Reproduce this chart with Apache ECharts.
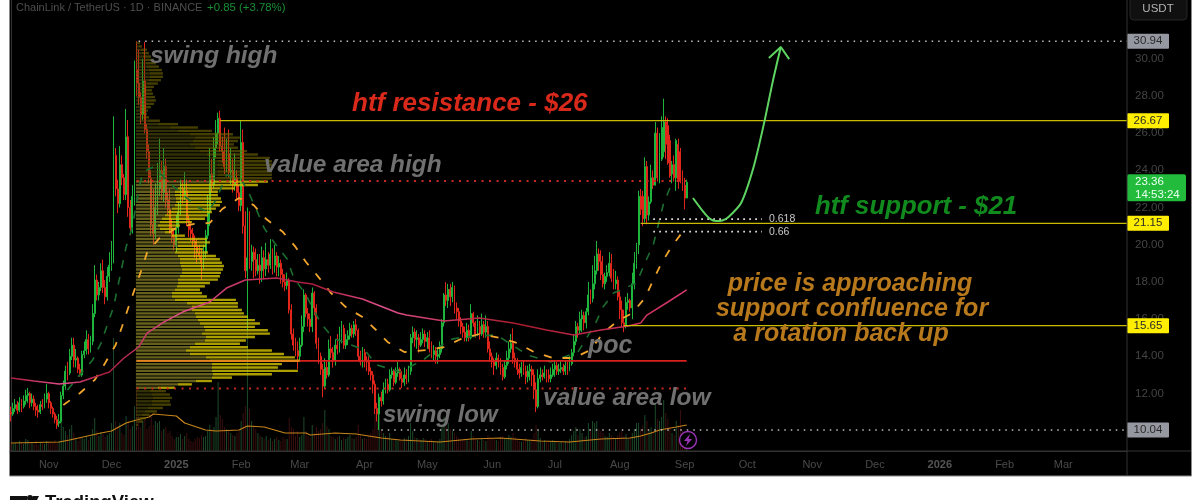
<!DOCTYPE html>
<html><head><meta charset="utf-8">
<style>html,body{margin:0;padding:0;background:#fff;overflow:hidden}#c{width:1200px;height:500px}</style>
<script src="https://cdn.jsdelivr.net/npm/echarts@6/dist/echarts.min.js"></script></head>
<body><div id="c"></div>
<script>
const startDate = Date.UTC(2024, 9, 14);
const barCount = 534;
const monthTicks = [["2024-11-01","Nov"],["2024-12-01","Dec"],["2025-01-01","2025"],["2025-02-01","Feb"],["2025-03-01","Mar"],["2025-04-01","Apr"],["2025-05-01","May"],["2025-06-01","Jun"],["2025-07-01","Jul"],["2025-08-01","Aug"],["2025-09-01","Sep"],["2025-10-01","Oct"],["2025-11-01","Nov"],["2025-12-01","Dec"],["2026-01-01","2026"],["2026-02-01","Feb"],["2026-03-01","Mar"]];
const priceTicks = [12,14,16,18,20,22,24,26,28,30];

const opens = [
11.0,10.9,11.2,11.4,11.1,11.5,11.3,11.6,11.9,12.0,
11.5,11.7,11.3,11.1,11.0,11.4,11.3,11.7,12.0,11.5,
11.2,10.9,10.6,10.4,10.5,11.9,12.4,13.2,13.1,14.0,
14.6,13.8,13.9,13.3,13.0,14.1,14.3,14.9,14.4,14.8,
16.3,18.1,17.3,17.7,18.6,17.7,17.2,18.3,18.9,19.4,
24.8,23.0,22.2,24.3,23.6,22.7,25.8,22.0,20.9,22.6,
29.4,28.7,27.9,27.0,28.8,26.2,25.0,23.6,21.1,20.6,
22.0,23.0,24.0,22.8,24.2,22.4,21.9,20.9,20.4,20.0,
20.9,21.8,23.0,22.6,22.9,21.3,20.8,20.6,20.2,19.9,
19.6,19.4,19.0,19.6,20.5,21.8,23.8,23.2,25.2,26.0,
26.8,25.3,25.0,24.2,24.9,23.9,24.0,23.2,23.6,22.8,
22.1,25.5,21.0,18.6,19.3,19.1,19.6,19.2,18.6,18.9,
18.6,19.3,18.7,19.2,18.9,19.5,18.9,19.4,18.8,19.0,
18.4,18.0,17.8,18.1,16.5,15.2,14.6,14.3,14.0,14.6,
15.6,17.3,16.3,16.0,15.6,17.4,16.6,14.7,14.0,13.3,
12.4,13.4,13.0,14.4,14.2,13.8,14.6,14.4,15.0,15.5,
14.6,14.9,15.1,15.5,15.2,15.7,15.4,14.0,13.7,14.2,
13.8,13.7,13.2,13.0,12.5,11.2,10.9,11.8,11.6,12.2,
12.5,12.2,13.0,13.2,12.6,13.1,13.3,12.8,12.6,13.0,
12.8,13.2,15.0,15.3,14.9,15.0,14.6,14.9,15.2,14.8,
15.0,14.4,14.1,14.3,14.0,14.1,14.4,15.8,17.3,17.0,
17.6,17.2,17.7,16.6,16.4,15.9,15.6,15.3,15.0,15.4,
15.0,16.3,15.8,15.2,15.6,15.2,15.7,15.3,15.6,14.4,
14.0,13.7,13.5,13.9,13.7,13.4,12.9,13.5,13.9,14.4,
14.7,13.9,13.7,13.3,13.1,13.4,13.2,12.9,13.2,13.3,
13.0,12.2,11.3,12.8,13.0,12.9,13.1,13.0,12.8,13.0,
13.3,13.5,13.2,13.3,13.4,13.2,13.5,13.3,13.6,14.2,
14.8,15.6,15.4,16.0,16.2,15.8,16.4,17.3,17.1,17.9,
18.6,19.5,19.1,18.4,17.9,18.3,18.5,19.0,18.2,17.9,
18.1,17.2,16.5,15.8,15.7,16.9,17.0,16.6,17.9,19.0,
20.0,22.6,22.6,21.4,24.2,21.6,22.3,23.6,23.2,26.0,
23.6,24.6,25.0,26.6,26.4,25.6,23.8,24.3,23.6,25.4,
25.0,23.4,23.2,22.51];
const highs = [
11.3,11.5,11.7,11.6,11.8,11.7,11.9,12.2,12.3,12.1,
12.0,11.9,11.5,11.4,11.6,11.7,12.0,12.5,12.1,11.6,
11.3,11.0,10.8,10.9,12.1,12.7,13.5,13.7,14.4,15.0,
15.0,14.4,14.0,13.6,14.3,14.8,15.4,15.2,15.1,16.8,
18.9,18.4,18.0,19.0,19.2,18.1,18.8,19.6,20.2,26.9,
25.2,23.5,25.3,24.8,23.8,27.3,26.7,22.4,23.2,29.9,
30.94,30.5,28.2,30.0,30.9,26.5,25.4,24.0,23.0,23.3,
24.4,25.7,24.5,25.2,24.6,22.8,23.0,21.4,20.9,21.6,
22.3,23.5,23.4,23.9,23.5,21.6,21.2,20.9,20.5,20.3,
20.0,19.8,20.0,20.8,22.7,25.2,24.6,25.8,26.7,27.1,
27.2,25.8,26.3,25.7,26.2,25.2,24.6,24.9,24.0,23.2,
26.7,26.2,21.8,22.0,21.8,20.0,19.9,19.8,19.5,19.5,
19.9,19.7,20.1,19.6,20.3,19.8,20.0,19.6,19.4,19.2,
18.7,18.4,18.5,18.2,16.8,15.5,15.0,14.8,15.0,16.2,
17.6,17.4,16.6,16.3,17.7,17.5,16.8,15.0,14.2,13.6,
13.9,13.7,14.9,15.1,14.5,14.9,15.2,15.6,15.9,15.7,
15.2,15.4,15.8,15.7,15.9,16.0,15.5,14.3,14.5,14.4,
14.0,14.0,13.4,13.2,12.7,11.5,12.0,12.1,12.6,12.8,
12.8,13.3,13.4,13.3,13.4,13.7,13.4,13.2,13.4,13.3,
13.5,15.2,15.6,15.5,15.4,15.2,15.3,15.5,15.4,15.3,
15.4,14.8,14.6,14.5,14.4,14.8,16.0,17.4,18.0,17.9,
17.9,18.0,17.8,16.9,16.6,16.1,15.8,15.6,15.8,15.7,
16.8,16.4,15.9,16.2,15.9,16.3,15.9,16.2,15.9,14.8,
14.2,13.9,14.2,14.1,13.9,13.6,13.8,14.3,14.8,15.2,
15.5,14.2,13.9,13.6,13.7,13.8,13.5,13.5,13.6,13.5,
13.3,12.6,13.3,13.4,13.3,13.5,13.3,13.3,13.4,13.6,
13.8,13.7,13.6,13.8,13.6,13.8,13.7,14.0,14.4,15.2,
15.9,15.8,16.4,16.5,16.4,16.6,18.0,17.6,18.9,19.4,
20.2,19.8,19.7,19.4,18.5,18.9,19.6,19.5,18.7,18.6,
18.3,17.5,17.0,16.5,17.2,17.4,17.1,18.5,19.6,20.1,
22.9,23.0,22.9,24.7,24.5,22.6,24.3,24.0,26.6,26.3,
26.0,26.9,27.85,26.9,26.8,25.9,24.5,24.8,25.7,25.7,
25.2,24.0,23.6,23.5];
const lows = [
10.5,10.8,11.0,10.9,11.0,11.0,11.2,11.4,11.5,11.2,
11.3,11.1,10.8,10.7,10.9,11.1,11.2,11.5,11.2,10.9,
10.7,10.4,10.1,10.2,10.4,11.7,12.2,12.7,13.0,13.8,
13.4,13.4,13.1,12.9,12.9,13.9,14.1,14.1,14.2,14.6,
16.1,17.0,17.0,17.5,17.4,16.8,17.0,18.0,18.6,19.0,
22.6,21.7,22.0,23.2,22.4,22.4,21.5,20.5,20.6,22.1,
28.0,27.5,26.5,26.7,26.0,24.6,23.3,20.5,20.0,20.3,
21.6,22.6,22.4,22.3,22.0,21.6,20.6,20.1,19.7,19.6,
20.6,21.6,22.2,22.4,21.0,20.4,20.2,19.9,19.3,19.0,
19.2,18.1,18.7,19.3,20.3,21.0,22.8,23.0,24.7,25.4,
25.0,24.4,23.8,23.9,23.6,23.2,22.8,22.9,22.4,21.8,
21.8,20.6,18.2,15.4,18.7,18.6,18.2,18.3,18.4,17.9,
18.0,18.2,18.3,18.5,18.7,18.4,18.5,18.3,18.3,17.9,
17.7,17.5,17.6,16.3,14.9,14.3,14.0,13.3,13.8,14.5,
15.3,16.1,15.6,15.3,15.3,16.2,14.4,13.6,13.0,11.8,
12.3,12.8,12.9,13.9,13.4,13.5,14.1,14.2,14.7,14.4,
14.4,14.6,14.9,15.0,15.0,15.1,13.8,13.5,13.4,13.4,
13.2,13.0,12.7,12.0,10.9,10.5,10.04,11.3,11.4,12.0,
12.0,12.1,12.8,12.4,12.5,12.9,12.7,12.3,12.4,12.5,
12.6,13.0,14.7,14.5,14.4,14.2,14.5,14.7,14.5,14.4,
14.2,13.9,13.8,13.6,13.6,13.9,14.2,15.6,16.7,16.6,
16.7,16.9,16.3,16.0,15.6,15.2,15.0,14.8,14.8,14.8,
14.9,15.6,15.0,15.1,14.9,15.1,15.0,15.0,14.2,13.7,
13.4,13.0,13.3,13.4,13.0,12.7,12.8,13.3,13.6,14.2,
13.6,13.4,13.0,12.8,12.9,13.0,12.5,12.6,12.7,12.4,
11.7,11.0,11.2,12.6,12.7,12.8,12.6,12.6,12.6,12.9,
12.9,13.0,13.0,13.1,13.0,13.0,13.0,13.2,13.5,14.0,
14.6,15.0,15.2,15.3,15.4,15.5,16.2,16.8,16.9,17.6,
18.4,18.6,18.1,17.7,17.6,18.0,18.3,18.0,17.6,17.6,
17.0,16.0,15.6,15.3,15.5,16.5,16.4,16.0,17.6,18.7,
19.5,21.6,21.0,21.2,21.1,21.3,22.2,23.0,23.3,23.4,
23.3,24.5,24.7,24.6,24.3,23.6,23.3,23.4,22.9,23.0,
23.3,22.9,21.9,22.5];
const closes = [
10.9,11.2,11.4,11.1,11.5,11.3,11.6,11.9,12.0,11.5,
11.7,11.3,11.1,11.0,11.4,11.3,11.7,12.0,11.5,11.2,
10.9,10.6,10.3,10.5,11.9,12.4,13.2,13.1,14.0,14.6,
13.8,13.9,13.3,13.0,14.1,14.3,14.9,14.4,14.8,16.3,
18.1,17.3,17.7,18.6,17.7,17.2,18.3,18.9,19.4,24.8,
23.0,22.2,24.3,23.6,22.7,25.8,22.0,20.9,22.6,29.4,
28.7,27.9,27.0,28.8,26.2,25.0,23.6,21.1,20.6,22.0,
23.0,24.0,22.8,24.2,22.4,21.9,20.9,20.4,20.0,20.9,
21.8,23.0,22.6,22.9,21.3,20.8,20.6,20.2,19.9,19.6,
19.4,19.0,19.6,20.5,21.8,23.8,23.2,25.2,26.0,26.8,
25.3,25.0,24.2,24.9,23.9,24.0,23.2,23.6,22.8,22.1,
25.5,21.0,18.6,19.3,19.1,19.6,19.2,18.6,18.9,18.6,
19.3,18.7,19.2,18.9,19.5,18.9,19.4,18.8,19.0,18.4,
18.0,17.8,18.1,16.5,15.2,14.6,14.3,14.0,14.6,15.6,
17.3,16.3,16.0,15.6,17.4,16.6,14.7,14.0,13.3,12.4,
13.4,13.0,14.4,14.2,13.8,14.6,14.4,15.0,15.5,14.6,
14.9,15.1,15.5,15.2,15.7,15.4,14.0,13.7,14.2,13.8,
13.7,13.2,13.0,12.5,11.2,10.9,11.8,11.6,12.2,12.5,
12.2,13.0,13.2,12.6,13.1,13.3,12.8,12.6,13.0,12.8,
13.2,15.0,15.3,14.9,15.0,14.6,14.9,15.2,14.8,15.0,
14.4,14.1,14.3,14.0,14.1,14.4,15.8,17.3,17.0,17.6,
17.2,17.7,16.6,16.4,15.9,15.6,15.3,15.0,15.4,15.0,
16.3,15.8,15.2,15.6,15.2,15.7,15.3,15.6,14.4,14.0,
13.7,13.5,13.9,13.7,13.4,12.9,13.5,13.9,14.4,14.7,
13.9,13.7,13.3,13.1,13.4,13.2,12.9,13.2,13.3,13.0,
12.2,11.3,12.8,13.0,12.9,13.1,13.0,12.8,13.0,13.3,
13.5,13.2,13.3,13.4,13.2,13.5,13.3,13.6,14.2,14.8,
15.6,15.4,16.0,16.2,15.8,16.4,17.3,17.1,17.9,18.6,
19.5,19.1,18.4,17.9,18.3,18.5,19.0,18.2,17.9,18.1,
17.2,16.5,15.8,15.7,16.9,17.0,16.6,17.9,19.0,20.0,
22.6,21.9,21.4,24.2,21.6,22.3,23.6,23.2,26.0,23.6,
25.4,26.3,26.6,25.4,24.4,23.7,24.3,23.6,25.6,23.5,
23.4,23.2,22.5,23.36];
const volumes = [
9,7,8,6,10,8,7,12,11,9, 8,7,10,6,9,8,7,10,9,8, 9,11,8,10,30,24,20,16,22,26,
18,12,10,14,13,12,15,11,14,22, 33,20,15,19,17,14,16,18,28,113, 30,25,28,18,16,35,30,22,25,45,
61,35,24,30,32,22,25,34,26,30, 28,30,20,22,24,18,20,15,12,14, 14,17,12,15,18,12,10,9,12,14,
13,16,14,15,20,26,22,24,34,69, 36,32,24,22,20,18,16,15,18,20, 30,38,45,121,42,30,26,22,18,16,
14,12,15,11,13,10,12,14,11,10, 14,12,12,33,24,22,15,20,14,16, 34,20,15,13,26,18,24,20,22,28,
41,25,22,15,14,12,14,15,11,13, 12,14,16,13,12,14,26,16,12,13, 12,15,18,22,38,31,45,20,18,15,
14,18,12,13,11,10,12,11,13,12, 15,28,20,14,13,12,11,13,12,10, 11,12,10,9,10,12,26,34,24,28,
22,20,18,15,13,12,11,12,11,10, 20,15,12,11,10,12,11,10,16,14, 13,12,11,10,14,15,13,12,16,14,
18,14,12,10,9,10,13,11,10,12, 18,26,20,13,10,11,9,8,10,11, 10,9,8,9,8,10,9,12,16,20,
24,16,22,18,14,15,28,22,30,28, 30,22,20,18,15,14,18,16,14,12, 16,18,20,15,17,12,14,18,22,28,
28,22,26,36,30,20,24,18,48,32, 30,34,51,38,32,24,18,16,30,26, 41,20,16,14];

const volumeAverage = [[0,8],[23,9],[28,11],[43,18],[48,20],[55,28],[60,31],[66,34],[68,37],[79,35],[83,28],[93,21],[98,20],[109,21],[113,25],[121,24],[131,18],[141,18],[143,16],[155,18],[165,17],[177,13],[186,11],[205,9],[220,12],[234,13],[253,10],[267,9],[282,12],[296,13],[301,15],[306,18],[310,21],[318,24],[323,26]];
const orangeAverage = [[25,11.38],[33,12.03],[40,12.73],[45,13.64],[50,14.61],[53,15.58],[56,16.6],[59,17.57],[62,18.53],[65,19.56],[71,20.36],[79,20.9],[87,21.11],[95,21.17],[101,21.92],[109,22.51],[116,22.13],[122,21.38],[130,20.68],[136,19.88],[141,19.07],[147,18.26],[153,17.4],[160,16.65],[168,16.11],[174,15.47],[180,14.77],[188,14.23],[199,14.34],[207,14.5],[216,14.98],[224,15.2],[234,14.98],[242,14.71],[250,14.23],[259,13.91],[269,13.91],[277,14.34],[283,15.25],[290,15.9],[297,16.33],[303,17.13],[307,18.1],[311,19.02],[316,19.93],[321,20.68],[323,21.0]];
const greenAverage = [[27,12.19],[32,12.89],[39,13.8],[43,14.71],[46,15.68],[49,16.65],[51,17.73],[53,18.8],[55,19.88],[58,20.95],[61,22.94],[63,23.91],[68,24.18],[78,23.1],[89,22.03],[94,21.76],[98,22.4],[103,23.75],[110,23.5],[113,22.94],[117,21.97],[121,20.9],[126,20.09],[132,19.23],[135,18.26],[141,17.3],[148,15.79],[154,14.98],[169,14.34],[175,13.53],[186,13.16],[197,13.8],[209,14.88],[216,15.04],[232,15.15],[247,14.07],[258,13.69],[271,14.23],[279,15.68],[283,16.65],[288,17.4],[299,17.94],[303,19.02],[307,19.98],[310,21.33],[312,22.24],[315,23.05]];
const longAverage = [[0,12.83],[11,12.67],[23,12.51],[33,12.62],[47,13.16],[54,13.91],[61,14.5],[65,15.25],[73,15.84],[82,16.38],[95,16.92],[103,17.67],[112,18.1],[127,18.21],[137,18.0],[144,17.89],[154,17.46],[168,17.08],[185,16.33],[189,16.22],[207,15.9],[224,16.06],[240,15.79],[256,15.42],[269,15.15],[282,15.42],[295,15.63],[301,15.79],[304,16.22],[314,16.92],[323,17.57]];

const profileOuter = [4,6,11,13,15,18,20,23,26,27,27,25,22,18,16,17,19,20,18,15,12,11,13,24,42,62,76,97,104,102,98,102,111,122,134,136,136,137,136,136,136,132,
122,99,82,82,85,86,84,80,76,72,69,56,44,40,36,49,71,74,70,67,72,80,84,86,88,87,85,84,82,74,69,64,66,71,100,102,102,106,108,112,119,124,119,132,134,119,110,104,112,136,148,159,164,146,142,162,136,96,76,56,39,
30,34,36,34,35,27,21,14,10,7,2,1];
const profileInner = [2,3,5,6,7,9,10,11,13,14,14,13,11,9,8,9,10,10,9,7,6,5,6,12,22,34,42,54,59,57,54,59,64,71,79,82,82,84,82,82,80,74,
44,42,39,39,40,40,39,36,32,29,26,24,22,24,29,36,40,42,42,40,39,42,44,44,45,46,46,44,42,42,41,39,36,36,39,51,56,56,59,60,62,64,68,69,66,70,69,59,54,50,54,70,74,76,76,76,77,76,60,42,22,
14,16,17,16,16,12,9,6,4,3,1,1];
const profileTop = 30.844, profileStep = 0.1817, profileStart = 59.7, profileUnit = 2.0918;
const valueAreaHigh = 23.42, valueAreaLow = 12.27, pointOfControl = 13.75;

const swingHigh = 30.94, swingLow = 10.04, resistance = 26.67, support = 21.15, base = 15.65, fib618 = 21.38, fib66 = 20.7;
const projection = [[326,22.51],[331,21.76],[334,21.4],[337,21.27],[340,21.3],[343,21.49],[349,22.24],[355,24.18],[360,26.54],[364.3,28.85],[368,30.63]];
const arrowHead = [[362.3,30.04],[368,30.63],[372,29.98]];
const lastPrice = 23.36;
const priceBadges = [[30.94,"30.94","#9598a1"],[26.67,"26.67","#ffee00"],[21.15,"21.15","#ffee00"],[15.65,"15.65","#ffee00"],[10.04,"10.04","#9598a1"]];

const categories = [];
for (let i=0;i<barCount;i++) categories.push(new Date(startDate+i*864e5).toISOString().slice(0,10));
const tickMap = Object.fromEntries(monthTicks);
const UP="#1fb53c", DOWN="#e0261a", AX_END=533.5;
const candles = closes.map((c,i)=>[opens[i],c,lows[i],highs[i]]);
const profileData = profileOuter.map((w,k)=>[profileStart,profileTop-k*profileStep,w/profileUnit,profileInner[k]/profileUnit,k]);

function hline(y,from,to,color,width,type,z){
  return {type:'line',xAxisIndex:1,yAxisIndex:0,symbol:'none',silent:true,z:z||5,data:[[from,y],[to,y]],lineStyle:{color,width,type:type||'solid',cap:'butt'}};
}
const F='"Liberation Sans",Arial,sans-serif';
function note(text,x,y,size,color,align){
  return {type:'text',x,y,z:50,style:{text,fill:color,font:`italic bold ${size}px ${F}`,align:align||'left',verticalAlign:'middle'}};
}
const opt={
 animation:false,backgroundColor:'#ffffff',
 grid:{left:10,top:0,width:1117,height:451,containLabel:false},
 xAxis:[
  {type:'category',data:categories,boundaryGap:true,
   axisLine:{show:true,lineStyle:{color:'#333'}},axisTick:{show:false},splitLine:{show:false},
   axisLabel:{interval:(i,v)=>v in tickMap,hideOverlap:false,margin:8,color:'#4a4a4a',fontSize:11,fontFamily:F,
     formatter:v=>{const t=tickMap[v]||'';return /^\d/.test(t)?`{b|${t}}`:t;},rich:{b:{fontWeight:'bold',color:'#555',fontSize:11,fontFamily:F}}}},
  {type:'value',show:false,min:-0.5,max:AX_END,position:'top',splitLine:{show:false}}
 ],
 yAxis:[
  {type:'value',position:'right',min:8.91,max:33.156,scale:true,splitLine:{show:false},
   axisLine:{show:true,lineStyle:{color:'#333'}},axisTick:{show:false},
   axisLabel:{customValues:priceTicks,formatter:v=>v.toFixed(2),color:'#454545',fontSize:11.5,fontFamily:F,margin:8}},
  {type:'value',show:false,min:0,max:451,splitLine:{show:false}}
 ],
 series:[
  {type:'bar',xAxisIndex:0,yAxisIndex:1,barWidth:1,silent:true,z:1,
   data:volumes.map((v,i)=>({value:v,itemStyle:{color:closes[i]>=opens[i]?'#1c4a2a':'#3d0f0f'}}))},
  {type:'line',xAxisIndex:1,yAxisIndex:1,data:volumeAverage,symbol:'none',silent:true,z:2,lineStyle:{color:'#c6841c',width:1.2}},
  {type:'candlestick',xAxisIndex:0,yAxisIndex:0,data:candles,barWidth:1.4,silent:true,z:2,
   itemStyle:{color:UP,color0:DOWN,borderColor:UP,borderColor0:DOWN,borderColorDoji:UP,borderWidth:1,opacity:1}},
  {type:'line',xAxisIndex:1,yAxisIndex:0,data:greenAverage,symbol:'none',silent:true,z:3,lineStyle:{color:'#1b6e2e',width:1.6,type:[8,9]}},
  {type:'line',xAxisIndex:1,yAxisIndex:0,data:orangeAverage,symbol:'none',silent:true,z:3,lineStyle:{color:'#f2a52b',width:1.8,type:[8,11]}},
  {type:'line',xAxisIndex:1,yAxisIndex:0,data:longAverage,symbol:'none',silent:true,z:4,
   lineStyle:{width:1.5,color:{type:'linear',x:0,y:0,x2:1,y2:0,colorStops:[{offset:0,color:'#a81c3c'},{offset:.08,color:'#e0508c'},{offset:.14,color:'#a81c3c'},{offset:.25,color:'#e0508c'},{offset:.45,color:'#a81c3c'},{offset:.55,color:'#e0508c'},{offset:.75,color:'#a81c2c'},{offset:1,color:'#d83a70'}]}}},
  {type:'custom',xAxisIndex:1,yAxisIndex:0,data:profileData,silent:true,z:3,encode:{x:0,y:1},
   renderItem:(p,api)=>{
     const l=api.value(0),pr=api.value(1),o=api.value(2),n=api.value(3);
     const a=api.coord([l,pr]),b=api.coord([l+o,pr]),c=api.coord([l+n,pr]);
     const va=pr<=valueAreaHigh&&pr>=valueAreaLow,h=2.4;
     return {type:'group',children:[
       {type:'rect',shape:{x:c[0],y:a[1]-h/2,width:Math.max(0,b[0]-c[0]),height:h},style:{fill:va?'rgba(214,198,0,.8)':'rgba(110,102,0,.62)'}},
       {type:'rect',shape:{x:a[0],y:a[1]-h/2,width:c[0]-a[0],height:h},style:{fill:va?'rgba(140,134,40,.72)':'rgba(84,80,10,.6)'}}
     ]};
   }},
  hline(swingHigh,61,AX_END,'#bdbdbd',1.5,[1.5,5]),
  hline(resistance,100,AX_END,'#c9bb00',1.3),
  hline(support,301,AX_END,'#c9bb00',1.3),
  hline(base,293,AX_END,'#c9bb00',1.3),
  hline(swingLow,177,AX_END,'#bdbdbd',1.5,[1.5,5]),
  hline(valueAreaHigh,60,323,'#c92a1e',2,[2,5.5]),
  hline(valueAreaLow,60,323,'#c92a1e',2,[2,5.5]),
  hline(pointOfControl,60,138,'#e8821e',1.8),
  hline(pointOfControl,138,323,'#d8201c',1.8),
  hline(fib618,307,359,'#d8d8d8',1.8,[1.8,4.2]),
  hline(fib66,307,359,'#d8d8d8',1.8,[1.8,4.2]),
  {type:'line',xAxisIndex:1,yAxisIndex:0,data:projection,smooth:0.25,symbol:'none',silent:true,z:6,lineStyle:{color:'#5fd561',width:2}},
  {type:'line',xAxisIndex:1,yAxisIndex:0,data:arrowHead,symbol:'none',silent:true,z:6,lineStyle:{color:'#5fd561',width:2}},
  {type:'custom',xAxisIndex:1,yAxisIndex:0,data:priceBadges.map(b=>[AX_END,b[0]]),silent:true,z:20,clip:false,encode:{x:0,y:1},
   renderItem:(p,api)=>{
     const a=api.coord([api.value(0),api.value(1)]),b=priceBadges[p.dataIndex];
     return {type:'group',children:[
       {type:'rect',shape:{x:a[0],y:a[1]-7.5,width:42,height:15,r:1},style:{fill:b[2]}},
       {type:'text',x:a[0]+21,y:a[1],style:{text:b[1],fill:'#2a2a2a',font:`11.5px ${F}`,align:'center',verticalAlign:'middle'}}
     ]};
   }},
  {type:'custom',xAxisIndex:1,yAxisIndex:0,data:[[AX_END,lastPrice]],silent:true,z:21,clip:false,encode:{x:0,y:1},
   renderItem:(p,api)=>{
     const a=api.coord([api.value(0),api.value(1)]);
     return {type:'group',children:[
       {type:'rect',shape:{x:a[0],y:a[1]-8,width:59,height:27,r:2},style:{fill:'#22bb3c'}},
       {type:'text',x:a[0]+8,y:a[1],style:{text:api.value(1).toFixed(2),fill:'#eafff0',font:`11.5px ${F}`,align:'left',verticalAlign:'middle'}},
       {type:'text',x:a[0]+8,y:a[1]+13,style:{text:'14:53:24',fill:'#eafff0',font:`11.5px ${F}`,align:'left',verticalAlign:'middle'}}
     ]};
   }}
 ],
 graphic:[
  {type:'rect',z:-10,shape:{x:9.5,y:-2,width:1182,height:478},style:{fill:'#000',stroke:'#8a8a8a',lineWidth:1}},
  {type:'line',z:40,shape:{x1:1127,y1:0,x2:1127,y2:475},style:{stroke:'#333',lineWidth:1}},
  {type:'line',z:40,shape:{x1:10,y1:451,x2:1191,y2:451},style:{stroke:'#333',lineWidth:1}},
  {type:'rect',z:40,shape:{x:1130,y:-4,width:57,height:24,r:4},style:{fill:'#101010',stroke:'#262626'}},
  {type:'text',z:41,x:1158,y:9,style:{text:'USDT',fill:'#b4b4b4',font:`11.5px ${F}`,align:'center',verticalAlign:'middle'}},
  {type:'text',z:41,x:16,y:8,style:{text:'ChainLink / TetherUS · 1D · BINANCE',fill:'#4e4e4e',font:`11px ${F}`,verticalAlign:'middle'}},
  {type:'text',z:41,x:207,y:8,style:{text:'+0.85 (+3.78%)',fill:'#1a8f34',font:`11.4px ${F}`,verticalAlign:'middle'}},
  note('swing high',150,56,24.4,'#707070'),
  note('htf resistance - $26',352,104,26,'#d9291b'),
  note('value area high',264,165,24.4,'#707070'),
  note('htf support - $21',815,207,25.8,'#118a1e'),
  note('price is approaching',850,284,25,'#b8791d','center'),
  note('support confluence for',852,309,25,'#b8791d','center'),
  note('a rotation back up',841,334,25,'#b8791d','center'),
  note('poc',588,346,25,'#707070'),
  note('swing low',383,415,24,'#707070'),
  note('value area low',543,398,24.5,'#707070'),
  {type:'text',z:42,x:769,y:219,style:{text:'0.618',fill:'#c8c8c8',font:`10.5px ${F}`,verticalAlign:'middle'}},
  {type:'text',z:42,x:769,y:232,style:{text:'0.66',fill:'#c8c8c8',font:`10.5px ${F}`,verticalAlign:'middle'}},
  {type:'circle',z:42,shape:{cx:688,cy:440,r:8.5},style:{fill:'#000',stroke:'#9c34b8',lineWidth:1.4}},
  {type:'polygon',z:43,shape:{points:[[690,434],[684,441],[687.5,441],[686,446],[692,439],[688.5,439]]},style:{fill:'#9c34b8'}},
  {type:'rect',z:42,shape:{x:10,y:496,width:17,height:6},style:{fill:'#111'}},
  {type:'circle',z:42,shape:{cx:30,cy:498,r:3},style:{fill:'#111'}},
  {type:'polygon',z:42,shape:{points:[[33,496],[39,496],[34,506],[28,506]]},style:{fill:'#111'}},
  {type:'text',z:42,x:45,y:493,style:{text:'TradingView',fill:'#111',font:`bold 18.5px ${F}`,verticalAlign:'top'}}
 ]
};
const chart=echarts.init(document.getElementById('c'),null,{renderer:'canvas'});
chart.setOption(opt);
</script></body></html>
